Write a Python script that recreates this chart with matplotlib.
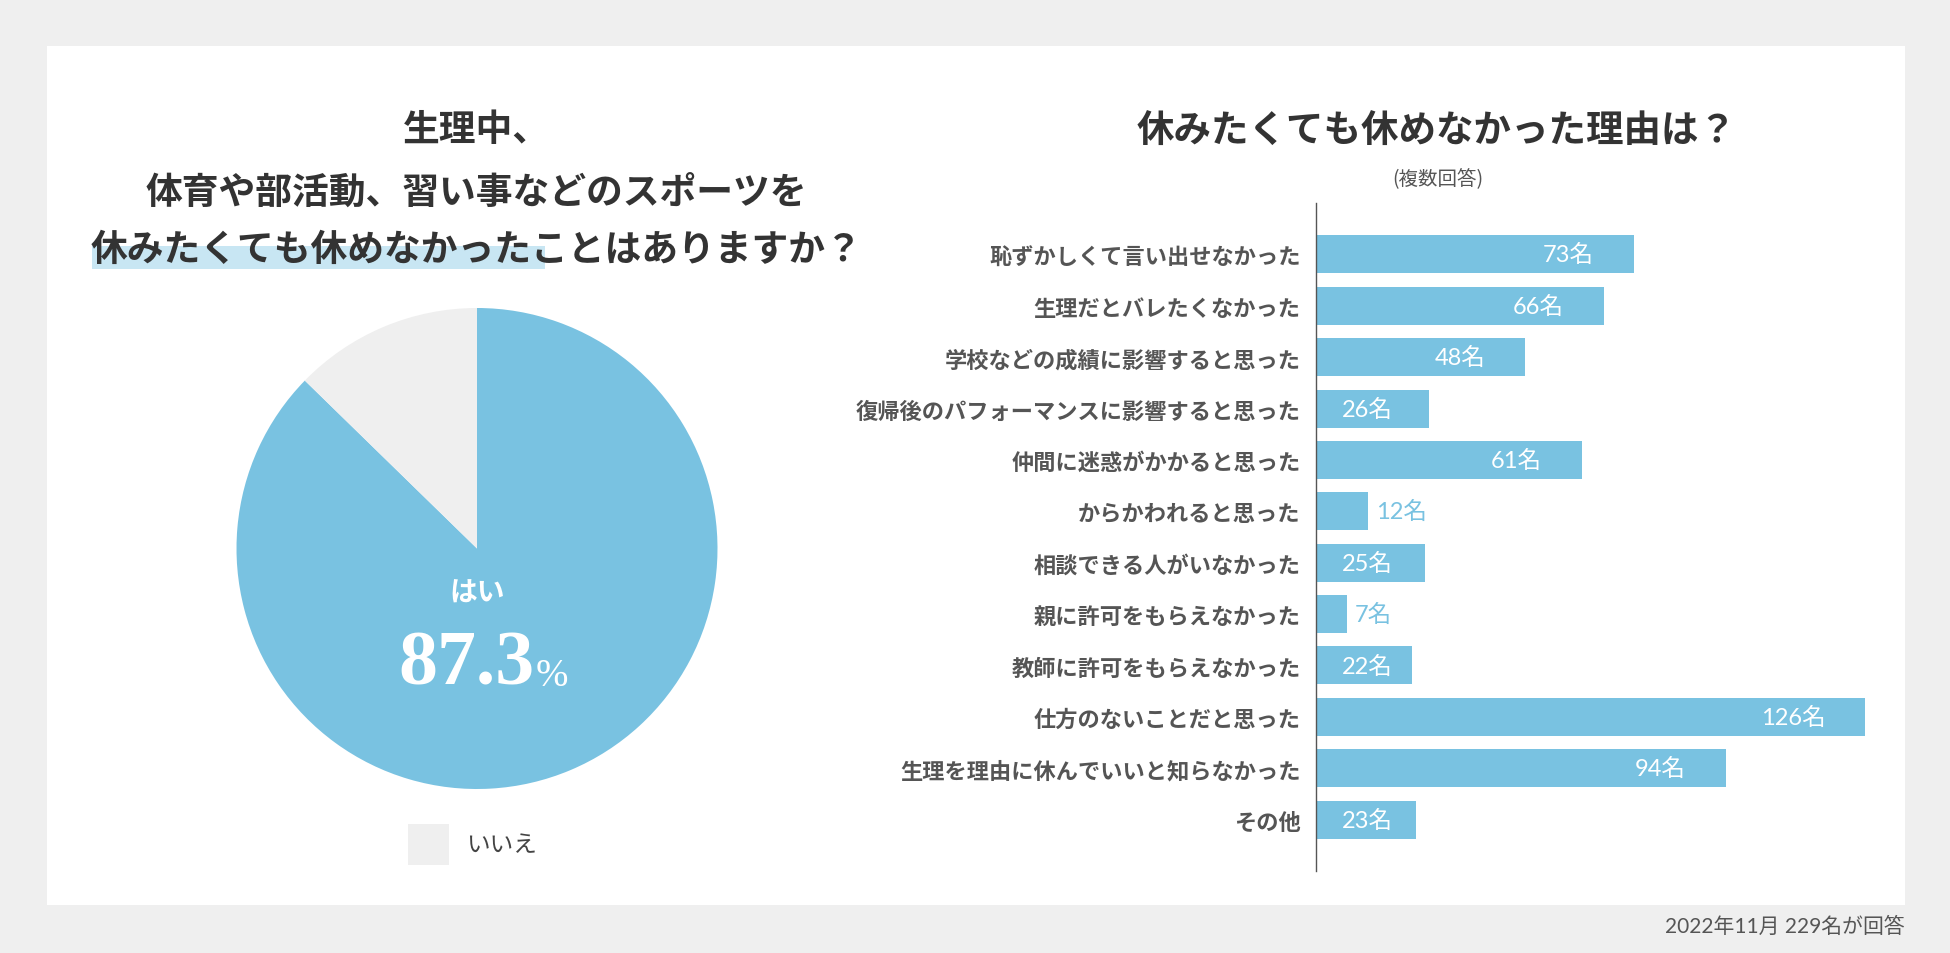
import matplotlib
matplotlib.use('Agg')
import matplotlib.pyplot as plt
from matplotlib.patches import Rectangle

# data
answer_labels = ['はい', 'いいえ']
answer_pct = [87.3, 12.7]

reasons = ['恥ずかしくて言い出せなかった', '生理だとバレたくなかった', '学校などの成績に影響すると思った',
           '復帰後のパフォーマンスに影響すると思った', '仲間に迷惑がかかると思った', 'からかわれると思った',
           '相談できる人がいなかった', '親に許可をもらえなかった', '教師に許可をもらえなかった',
           '仕方のないことだと思った', '生理を理由に休んでいいと知らなかった', 'その他']
counts = [73, 66, 48, 26, 61, 12, 25, 7, 22, 126, 94, 23]

left_title = ['生理中、', '体育や部活動、習い事などのスポーツを', '休みたくても休めなかったことはありますか？']
right_title = '休みたくても休めなかった理由は？'
right_sub = '(複数回答)'
footnote = '2022年11月 229名が回答'

BLUE = '#79c2e1'
GRAY = '#efefef'
W, H = 1950, 954
CJK = ['Noto Sans CJK JP', 'DejaVu Sans']
NUM = ['Lato', 'Noto Sans CJK JP', 'DejaVu Sans']
plt.rcParams['font.family'] = CJK


def fx(px):
    return px / W


def fy(py):
    return 1 - py / H


fig = plt.figure(figsize=(W / 100, H / 100), dpi=100, facecolor=GRAY)
fig.add_artist(Rectangle((fx(47), fy(906)), (1905 - 47) / W, (906 - 47) / H,
                         transform=fig.transFigure, facecolor='white', edgecolor='none', zorder=-1))

# left title with highlight under the first part of the last line
fig.add_artist(Rectangle((fx(92), fy(270)), (545 - 92) / W, (270 - 247) / H,
                         transform=fig.transFigure, facecolor='#c8e6f3', edgecolor='none', zorder=1))
for txt, y in zip(left_title, [131, 193, 250]):
    fig.text(fx(476), fy(y), txt, ha='center', va='center', fontsize=26.5,
             fontweight='bold', color='#333333', zorder=3)

# pie
r = 240.5
pax = fig.add_axes([fx(477 - r), fy(549.5 + r), 2 * r / W, 2 * r / H])
wedges, _ = pax.pie(answer_pct, colors=[BLUE, GRAY], startangle=90, counterclock=False,
                    wedgeprops=dict(linewidth=0))
pax.set_xlim(-1, 1)
pax.set_ylim(-1, 1)
pax.set_facecolor('none')
pax.text(0, -0.185, answer_labels[0], ha='center', va='center', fontsize=20,
         fontweight='bold', color='white')
pax.text(0.241, -0.563, f'{answer_pct[0]}', ha='right', va='baseline', fontsize=56,
         fontweight='bold', color='white', family=['Liberation Serif', 'DejaVu Serif'])
pax.text(0.245, -0.567, '%', ha='left', va='baseline', fontsize=28,
         color='white', family=['Liberation Serif', 'DejaVu Serif'])

# legend for "いいえ"
fig.add_artist(Rectangle((fx(408), fy(866)), 41 / W, 41 / H, transform=fig.transFigure,
                         facecolor=GRAY, edgecolor='none'))
fig.text(fx(466), fy(846), answer_labels[1], ha='left', va='center', fontsize=17, color='#444444')

# bar chart
fig.text(fx(1437), fy(131), right_title, ha='center', va='center', fontsize=27,
         fontweight='bold', color='#333333')
fig.text(fx(1438), fy(180), right_sub, ha='center', va='center', fontsize=14, color='#555555')

ax = fig.add_axes([fx(1316), fy(872), 588 / W, 668 / H])
ypos = list(range(len(reasons)))
ax.barh(ypos, counts, height=0.74, color=BLUE)
ax.set_ylim(12.0, -1.0)
ax.set_xlim(0, 588 / 4.36)
ax.set_xticks([])
ax.set_yticks(ypos)
ax.set_yticklabels(reasons, fontsize=16, fontweight='bold', color='#555555')
ax.tick_params(axis='y', length=0, pad=11)
for s in ['top', 'right', 'bottom']:
    ax.spines[s].set_visible(False)
ax.spines['left'].set_color('#555555')
ax.spines['left'].set_linewidth(1.0)

for y, v in zip(ypos, counts):
    lab = f'{v}名'
    if v >= 40:
        ax.annotate(lab, xy=(v, y), xytext=(-40, 0), textcoords='offset pixels',
                    ha='right', va='center', fontsize=17, color='white', family=NUM)
    elif v >= 20:
        ax.annotate(lab, xy=(0, y), xytext=(26, 0), textcoords='offset pixels',
                    ha='left', va='center', fontsize=17, color='white', family=NUM)
    else:
        ax.annotate(lab, xy=(v, y), xytext=(8, 0), textcoords='offset pixels',
                    ha='left', va='center', fontsize=17, color=BLUE, family=NUM)

fig.text(fx(1905), fy(927), footnote, ha='right', va='center', fontsize=15,
         color='#555555', family=NUM)

fig.savefig('out.png', dpi=100, facecolor=GRAY)
